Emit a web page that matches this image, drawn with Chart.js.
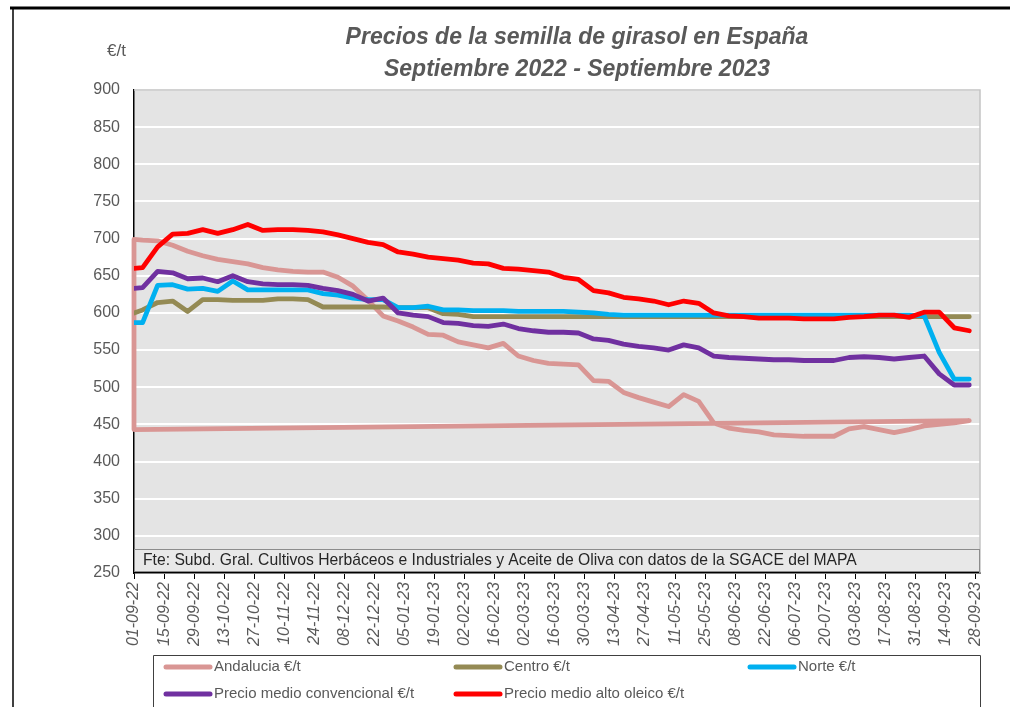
<!DOCTYPE html>
<html>
<head>
<meta charset="utf-8">
<title>Precios de la semilla de girasol en España</title>
<script src="https://cdn.jsdelivr.net/npm/chart.js@4.4.0/dist/chart.umd.min.js"></script>
<style>
  html, body { margin: 0; padding: 0; background: #fff; }
  #wrap { position: relative; width: 1024px; height: 707px; }
</style>
</head>
<body>
<div id="wrap"><canvas id="girasolChart" width="1024" height="707"></canvas></div>
<script>
// Fechas de cotización (primer dato el jueves 01-09-22, después lunes semanales)
const dates = [
  '01-09-22', '05-09-22', '12-09-22', '19-09-22', '26-09-22', '03-10-22', '10-10-22', '17-10-22',
  '24-10-22', '31-10-22', '07-11-22', '14-11-22', '21-11-22', '28-11-22', '05-12-22', '12-12-22',
  '19-12-22', '26-12-22', '02-01-23', '09-01-23', '16-01-23', '23-01-23', '30-01-23', '06-02-23',
  '13-02-23', '20-02-23', '27-02-23', '06-03-23', '13-03-23', '20-03-23', '27-03-23', '03-04-23',
  '10-04-23', '17-04-23', '24-04-23', '01-05-23', '08-05-23', '15-05-23', '22-05-23', '29-05-23',
  '05-06-23', '12-06-23', '19-06-23', '26-06-23', '03-07-23', '10-07-23', '17-07-23', '24-07-23',
  '31-07-23', '07-08-23', '14-08-23', '21-08-23', '28-08-23', '04-09-23', '11-09-23', '18-09-23',
  '25-09-23'
];

// €/t
const andalucia = [
  699, 698, 697, 691, 683, 677, 672, 669, 666, 661, 658, 656, 655, 655, 648, 636,
  617, 596, 589, 581, 571, 570, 561, 557, 553, 559, 542, 536, 532, 531, 530, 509,
  508, 493, 486, 480, 474, 490, 481, 452, 445, 442, 440, 436, 435, 434, 434, 434,
  444, 447, 443, 439, 443, 448, 450, 452, 455
];
// punto suelto de la serie Andalucía que en el original cierra la línea
const andaluciaStray = { date: '01-09-22', value: 443 };

const centro = [
  600, 604, 614, 616, 602, 618, 618, 617, 617, 617, 619, 619, 618, 608, 608, 608,
  608, 608, 607, 607, 607, 599, 598, 595, 595, 595, 595, 595, 595, 595, 595, 595,
  595, 595, 595, 595, 595, 595, 595, 595, 595, 595, 595, 595, 595, 595, 595, 595,
  595, 595, 595, 595, 595, 595, 595, 595, 595
];
const norte = [
  587, 587, 637, 638, 632, 633, 629, 643, 631, 631, 631, 631, 631, 626, 624, 620,
  618, 618, 607, 607, 609, 604, 604, 603, 603, 603, 602, 602, 602, 602, 601, 600,
  598, 597, 597, 597, 597, 597, 597, 597, 597, 597, 597, 597, 597, 597, 597, 597,
  597, 597, 597, 597, 597, 596, 547, 511, 511
];
const medioConvencional = [
  633, 634, 656, 654, 646, 647, 642, 650, 642, 639, 638, 638, 637, 633, 630, 625,
  616, 620, 600, 597, 595, 587, 586, 583, 582, 585, 579, 576, 574, 574, 573, 565,
  563, 558, 555, 553, 550, 557, 553, 542, 540, 539, 538, 537, 537, 536, 536, 536,
  540, 541, 540, 538, 540, 542, 518, 503, 503
];
const medioAltoOleico = [
  660, 661, 689, 706, 707, 712, 707, 712, 719, 711, 712, 712, 711, 709, 705, 700,
  695, 692, 682, 679, 675, 673, 671, 667, 666, 660, 659, 657, 655, 648, 645, 630,
  627, 621, 619, 616, 611, 616, 613, 600, 596, 595, 593, 593, 593, 592, 592, 592,
  594, 595, 597, 597, 594, 601, 601, 580, 576
];

const seriesNames = [
  'Andalucia €/t', 'Centro €/t', 'Norte €/t',
  'Precio medio convencional €/t', 'Precio medio alto oleico €/t'
];
const seriesColors = ['#d99694', '#948a54', '#00b0f0', '#7030a0', '#ff0000'];

const tickLabels = [
  '01-09-22', '15-09-22', '29-09-22', '13-10-22', '27-10-22', '10-11-22', '24-11-22', '08-12-22',
  '22-12-22', '05-01-23', '19-01-23', '02-02-23', '16-02-23', '02-03-23', '16-03-23', '30-03-23',
  '13-04-23', '27-04-23', '11-05-23', '25-05-23', '08-06-23', '22-06-23', '06-07-23', '20-07-23',
  '03-08-23', '17-08-23', '31-08-23', '14-09-23', '28-09-23'
];
const yTicks = { min: 250, max: 900, step: 50 };

const titleLines = ['Precios de la semilla de girasol en España', 'Septiembre 2022 - Septiembre 2023'];
const unitLabel = '€/t';
const sourceNote = 'Fte: Subd. Gral. Cultivos Herbáceos e Industriales y Aceite de Oliva con datos de la SGACE del MAPA';

// días transcurridos desde la primera fecha
function dayOffset(s) {
  const p = s.split('-').map(Number);
  const first = dates[0].split('-').map(Number);
  return (Date.UTC(2000 + p[2], p[1] - 1, p[0]) - Date.UTC(2000 + first[2], first[1] - 1, first[0])) / 86400000;
}
const xDays = dates.map(dayOffset);
const TICK_STEP = 14;

function toPoints(values) {
  return values.map((v, i) => ({ x: xDays[i], y: v }));
}

const stray = { x: dayOffset(andaluciaStray.date), y: andaluciaStray.value };
const seriesValues = [andalucia, centro, norte, medioConvencional, medioAltoOleico];

const datasets = seriesValues.map((vals, k) => {
  let pts = toPoints(vals);
  if (k === 0) pts = [stray].concat(pts, [stray]);
  return {
    label: seriesNames[k],
    data: pts,
    borderColor: seriesColors[k],
    backgroundColor: seriesColors[k],
    borderWidth: 4.8,
    pointRadius: 0,
    tension: 0,
    borderJoinStyle: 'round',
    borderCapStyle: 'round',
    clip: k === 0 ? false : undefined,
    order: 5 - k   // como Excel: la última serie encima
  };
});

const GREY = '#595959';
const FONT = "'Liberation Sans', Arial, sans-serif";

// fondo gris del área de trazado
const plotBackground = {
  id: 'plotBackground',
  beforeDraw(chart) {
    const { ctx, chartArea: a } = chart;
    ctx.save();
    ctx.fillStyle = '#e4e4e4';
    ctx.fillRect(a.left, a.top, a.right - a.left, a.bottom - a.top);
    ctx.restore();
  }
};

// título, unidades, nota de fuente, leyenda y marco
const decorations = {
  id: 'decorations',
  afterDraw(chart) {
    const { ctx, chartArea: a } = chart;
    ctx.save();

    // marco exterior
    ctx.strokeStyle = '#000';
    ctx.lineWidth = 3;
    ctx.beginPath();
    ctx.moveTo(10, 8);
    ctx.lineTo(1010, 8);
    ctx.stroke();
    ctx.lineWidth = 1.5;
    ctx.beginPath();
    ctx.moveTo(13, 8);
    ctx.lineTo(13, 707);
    ctx.stroke();

    // borde superior y derecho del área de trazado
    ctx.strokeStyle = '#c4c4c4';
    ctx.lineWidth = 1.5;
    ctx.beginPath();
    ctx.moveTo(a.left, a.top);
    ctx.lineTo(a.right, a.top);
    ctx.lineTo(a.right, a.bottom);
    ctx.stroke();

    // título
    ctx.fillStyle = GREY;
    ctx.textAlign = 'center';
    ctx.textBaseline = 'middle';
    ctx.font = 'italic bold 23px ' + FONT;
    ctx.fillText(titleLines[0], 577, 38);
    ctx.fillText(titleLines[1], 577, 70);

    // unidades del eje
    ctx.font = '17px ' + FONT;
    ctx.textAlign = 'left';
    ctx.fillText(unitLabel, 107, 51);

    // nota de fuente
    ctx.fillStyle = '#e8e8e8';
    ctx.fillRect(a.left, 549, a.right - a.left, 22);
    ctx.strokeStyle = '#8c8c8c';
    ctx.lineWidth = 1;
    ctx.strokeRect(a.left + 0.5, 549.5, a.right - a.left - 1, 22);
    ctx.fillStyle = '#262626';
    ctx.font = '15.7px ' + FONT;
    ctx.textBaseline = 'middle';
    ctx.fillText(sourceNote, 143, 561);

    // leyenda
    ctx.strokeStyle = '#404040';
    ctx.lineWidth = 1;
    ctx.beginPath();
    ctx.moveTo(153.5, 712);
    ctx.lineTo(153.5, 655.5);
    ctx.lineTo(980.5, 655.5);
    ctx.lineTo(980.5, 712);
    ctx.stroke();

    const cols = [166, 456, 750];
    const rows = [667, 694];
    const slots = [[0, 0], [1, 0], [2, 0], [0, 1], [1, 1]];
    ctx.font = '15px ' + FONT;
    ctx.fillStyle = GREY;
    ctx.lineCap = 'round';
    slots.forEach(([c, r], k) => {
      const x = cols[c], y = rows[r];
      ctx.strokeStyle = seriesColors[k];
      ctx.lineWidth = 5;
      ctx.beginPath();
      ctx.moveTo(x, y);
      ctx.lineTo(x + 44, y);
      ctx.stroke();
      ctx.fillText(seriesNames[k], x + 48, y);
    });

    ctx.restore();
  }
};

const ctx = document.getElementById('girasolChart').getContext('2d');
const girasolChart = new Chart(ctx, {
  type: 'line',
  data: { datasets: datasets },
  options: {
    responsive: false,
    animation: false,
    devicePixelRatio: 1,
    layout: { padding: { left: 0, right: 44, top: 90, bottom: 0 } },
    plugins: {
      legend: { display: false },
      title: { display: false },
      tooltip: { enabled: false }
    },
    scales: {
      x: {
        type: 'linear',
        min: 0,
        max: 394,
        afterFit(scale) { scale.height = 134; },
        grid: {
          drawOnChartArea: false,
          drawTicks: true,
          tickLength: 6,
          color: '#000',
          lineWidth: 1
        },
        border: { color: '#000', width: 1.5 },
        ticks: {
          stepSize: TICK_STEP,
          includeBounds: false,
          autoSkip: false,
          minRotation: 90,
          maxRotation: 90,
          padding: 3,
          color: GREY,
          font: { family: FONT, size: 16, style: 'italic' },
          callback: (v) => tickLabels[Math.round(v / TICK_STEP)]
        }
      },
      y: {
        min: yTicks.min,
        max: yTicks.max,
        afterFit(scale) { scale.width = 134; },
        grid: { color: '#ffffff', lineWidth: 2, drawTicks: false },
        border: { color: '#000', width: 1.5 },
        ticks: {
          stepSize: yTicks.step,
          padding: 14,
          color: GREY,
          font: { family: FONT, size: 16 }
        }
      }
    }
  },
  plugins: [plotBackground, decorations]
});
</script>
</body>
</html>
